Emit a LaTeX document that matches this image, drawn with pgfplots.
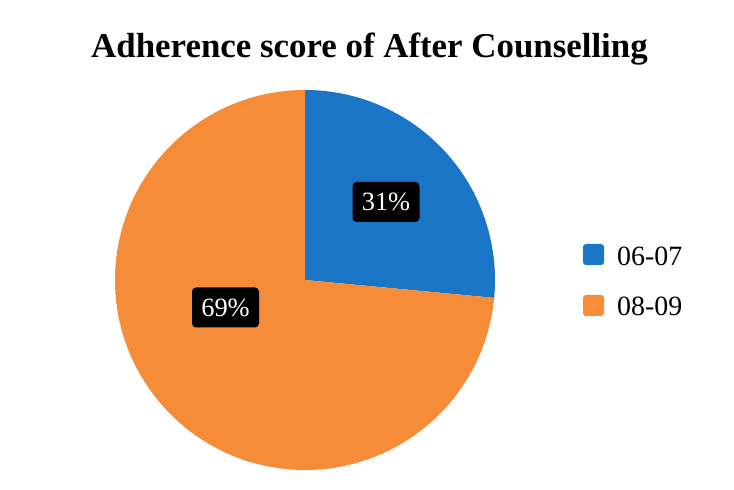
\documentclass[border=0pt]{standalone}
\usepackage{pgfplots}
\pgfplotsset{compat=1.18}
\usetikzlibrary{calc}
\usepackage{fontspec}
\setmainfont{Liberation Serif}
\definecolor{pieblue}{HTML}{1B75C6}
\definecolor{pieorange}{HTML}{F68B38}
% shares of the circle as drawn (percent)
\def\shareA{26.5}
\def\shareB{73.5}
\begin{document}
\begin{tikzpicture}
\pgfmathsetmacro\angA{90-3.6*\shareA}
\pgfmathsetmacro\angB{\angA-3.6*\shareB}
\begin{axis}[x=1bp,y=1bp,xmin=0,xmax=734,ymin=0,ymax=490,
  hide axis,clip=false,scale only axis]
\path (axis cs:0,0) rectangle (axis cs:734,490);
\fill[pieblue] (axis cs:305,210) -- (axis cs:305,400) arc[start angle=90,end angle=\angA,radius=190bp] -- cycle;
\fill[pieorange] (axis cs:305,210) -- ($(axis cs:305,210)+(\angA:190bp)$) arc[start angle=\angA,end angle=\angB,radius=190bp] -- cycle;
\node[anchor=base,font=\bfseries\fontsize{35}{35}\selectfont] at (axis cs:369.5,432) {Adherence score of After Counselling};
\node[fill=black,rounded corners=4bp,text=white,minimum width=67bp,minimum height=40bp,inner sep=0pt,font=\fontsize{26.5}{26.5}\selectfont] at (axis cs:386,288) {31\%};
\node[fill=black,rounded corners=4bp,text=white,minimum width=67bp,minimum height=40bp,inner sep=0pt,font=\fontsize{26.5}{26.5}\selectfont] at (axis cs:225.5,182.5) {69\%};
\fill[pieblue,rounded corners=3bp] (axis cs:583,246) rectangle (axis cs:604,225);
\fill[pieorange,rounded corners=3bp] (axis cs:583,195) rectangle (axis cs:604,174);
\node[anchor=west,inner sep=0pt,font=\fontsize{28}{28}\selectfont] at (axis cs:617,234) {06-07};
\node[anchor=west,inner sep=0pt,font=\fontsize{28}{28}\selectfont] at (axis cs:617,184) {08-09};
\end{axis}
\end{tikzpicture}
\end{document}
